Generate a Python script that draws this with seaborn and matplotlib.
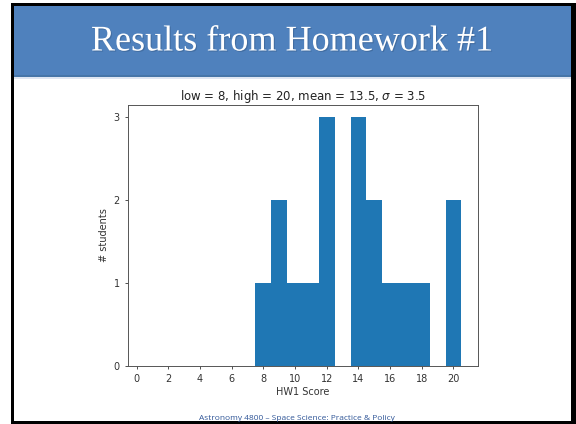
import numpy as np
import seaborn as sns
import matplotlib.pyplot as plt
import matplotlib.patheffects as pe
from matplotlib.patches import Rectangle

# Data: individual homework scores
scores = [8, 9, 9, 10, 11, 12, 12, 12, 14, 14, 14, 15, 15, 16, 17, 18, 20, 20]
x_ticks = list(range(0, 21, 2))
y_ticks = [0, 1, 2, 3]
plot_title = r"low = 8, high = 20, mean = 13.5, $\sigma$ = 3.5"
slide_title = "Results from Homework #1"
footer = "Astronomy 4800 \u2013 Space Science: Practice & Policy"

W, H = 576, 424
fig = plt.figure(figsize=(W / 100, H / 100), dpi=100)
fig.patch.set_facecolor("white")

def px_rect(x0, y0, x1, y1, color, z=0):
    # rectangle in pixel coords (y from top)
    fig.patches.append(Rectangle((x0 / W, 1 - y1 / H), (x1 - x0) / W, (y1 - y0) / H,
                                 transform=fig.transFigure, facecolor=color,
                                 edgecolor="none", zorder=z))

# slide frame + header band
px_rect(14, 6, 571, 77, "#4f81bd")
px_rect(14, 75, 571, 77, "#4675a8")
px_rect(14, 77, 571, 79, "#dfe6f2")
px_rect(11, 3, 576, 6, "black", 2)
px_rect(11, 3, 14, 424, "black", 2)
px_rect(571, 3, 576, 424, "black", 2)
px_rect(11, 421, 576, 424, "black", 2)

fig.text(292 / W, 1 - 42 / H, slide_title, color="white", fontsize=26,
         family="Liberation Serif", ha="center", va="center",
         path_effects=[pe.withSimplePatchShadow(offset=(0.8, -0.8), shadow_rgbFace="#2a4a70", alpha=0.35)])

fig.text(297 / W, 1 - 419 / H, footer, color="#2f5597", fontsize=6,
         family="Open Sans", ha="center", va="center")

ax = fig.add_axes([128 / W, 1 - 366 / H, 350 / W, 261 / H])
sns.histplot(x=scores, discrete=True, ax=ax, color="#1f77b4", alpha=1,
             linewidth=0)
ax.set_xlim(-0.55, 21.55)
ax.set_xticks(x_ticks)
ax.set_yticks(y_ticks)
ax.tick_params(labelsize=7, colors="#333333", length=2.5, width=0.6)
for s in ax.spines.values():
    s.set_color("#555555")
    s.set_linewidth(0.7)
ax.set_xlabel("HW1 Score", fontsize=7, color="#333333", labelpad=2)
ax.set_ylabel("# students", fontsize=7, color="#333333", labelpad=3)
ax.set_title(plot_title, fontsize=8.5, color="#222222", pad=3)

fig.savefig("out.png", dpi=100)
